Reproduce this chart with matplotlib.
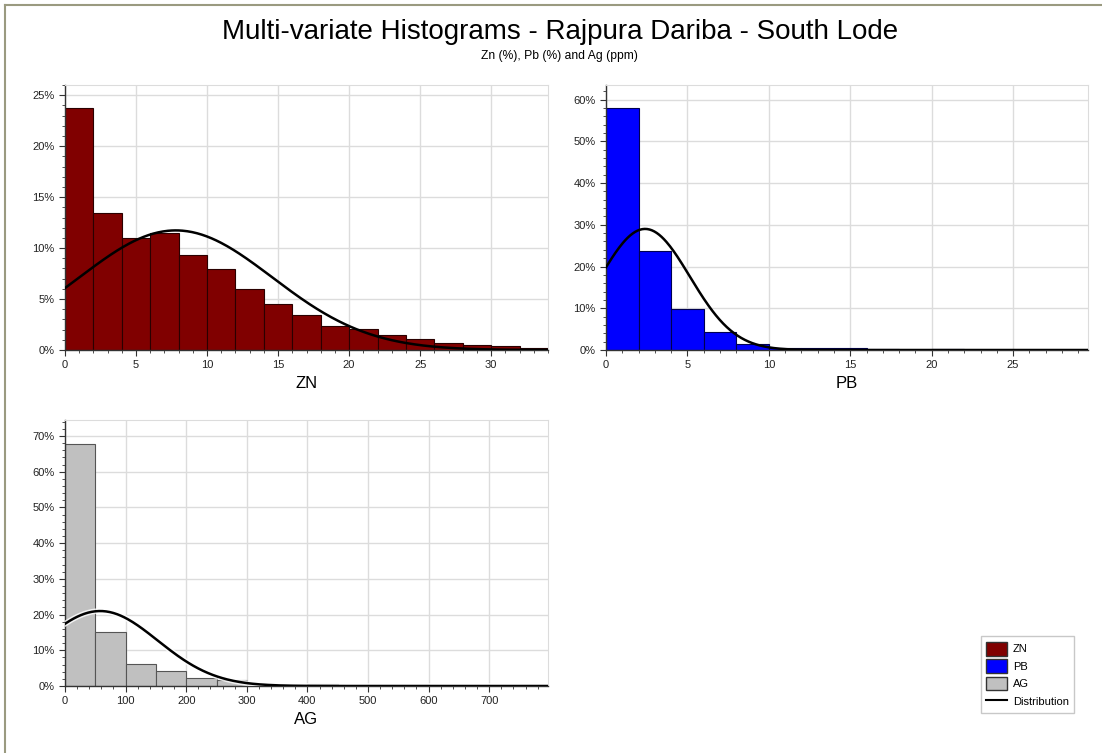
import numpy as np
import matplotlib
matplotlib.use("Agg")
import matplotlib.pyplot as plt
import matplotlib.patheffects as pe
from matplotlib.patches import Patch
from matplotlib.lines import Line2D
from matplotlib.ticker import MultipleLocator, PercentFormatter

plt.rcParams['font.family'] = ['Liberation Sans', 'DejaVu Sans']

# histogram data (percent of samples per bin)
zn_bin_width = 2
zn_pct = [23.7, 13.4, 11.0, 11.5, 9.3, 7.9, 6.0, 4.5, 3.4, 2.4, 2.1, 1.5, 1.1, 0.7, 0.5, 0.4, 0.2]
zn_mean, zn_sd = 7.8, 6.8

pb_bin_width = 2
pb_pct = [58.1, 23.8, 9.8, 4.2, 1.4, 0.4, 0.4, 0.4, 0.2, 0.0, 0.2]
pb_mean, pb_sd = 2.4, 2.75

ag_bin_width = 50
ag_pct = [67.9, 15.1, 6.1, 4.2, 2.2, 1.6, 0.5, 0.4, 0.5, 0.2, 0.2, 0.2, 0.0, 0.0, 0.0, 0.2]
ag_mean, ag_sd = 58, 95

grid_col = '#dcdcdc'


def draw_hist(ax, pct, width, mean, sd, color, edge, xmax, ymax, xmajor, xminor, ymajor, yminor, label, halo=False):
    edges = np.arange(len(pct)) * width
    ax.bar(edges, pct, width=width, align='edge', color=color, edgecolor=edge, linewidth=0.8, zorder=2)
    # fitted normal scaled to bin width
    x = np.linspace(0, xmax, 400)
    y = width * 100 / (sd * np.sqrt(2 * np.pi)) * np.exp(-0.5 * ((x - mean) / sd) ** 2)
    line, = ax.plot(x, y, color='black', lw=1.8, zorder=3)
    if halo:
        line.set_path_effects([pe.Stroke(linewidth=4, foreground='white', alpha=0.8), pe.Normal()])
    ax.set_xlim(0, xmax)
    ax.set_ylim(0, ymax)
    ax.xaxis.set_major_locator(MultipleLocator(xmajor))
    ax.xaxis.set_minor_locator(MultipleLocator(xminor))
    ax.yaxis.set_major_locator(MultipleLocator(ymajor))
    ax.yaxis.set_minor_locator(MultipleLocator(yminor))
    ax.yaxis.set_major_formatter(PercentFormatter(decimals=0))
    ax.grid(True, which='major', color=grid_col, lw=1, zorder=0)
    ax.set_axisbelow(True)
    for s in ['top', 'right']:
        ax.spines[s].set_color(grid_col)
    for s in ['left', 'bottom']:
        ax.spines[s].set_color('#333333')
        ax.spines[s].set_linewidth(1.0)
    ax.tick_params(which='major', length=4, width=0.8, labelsize=8, colors='#333333', labelcolor='#222222')
    ax.tick_params(which='minor', length=2, width=0.6, colors='#333333')
    ax.set_xlabel(label, fontsize=12, labelpad=4)


fig = plt.figure(figsize=(11.02, 7.53), dpi=100)

ax_zn = fig.add_axes([65 / 1102, 1 - 350 / 753, 483 / 1102, 265 / 753])
ax_pb = fig.add_axes([606 / 1102, 1 - 350 / 753, 482 / 1102, 265 / 753])
ax_ag = fig.add_axes([65 / 1102, 1 - 686 / 753, 483 / 1102, 266 / 753])

draw_hist(ax_zn, zn_pct, zn_bin_width, zn_mean, zn_sd, '#800000', '#2a0000', 34, 26, 5, 1, 5, 1, 'ZN')
draw_hist(ax_pb, pb_pct, pb_bin_width, pb_mean, pb_sd, '#0000ff', '#000050', 29.6, 63.5, 5, 1, 10, 2, 'PB')
draw_hist(ax_ag, ag_pct, ag_bin_width, ag_mean, ag_sd, '#c0c0c0', '#555555', 797, 74.5, 100, 20, 10, 2, 'AG', halo=True)

fig.text(0.508, 1 - 32 / 753, 'Multi-variate Histograms - Rajpura Dariba - South Lode',
         ha='center', va='center', fontsize=20)
fig.text(0.508, 1 - 56 / 753, 'Zn (%), Pb (%) and Ag (ppm)', ha='center', va='center', fontsize=8.7)

# figure frame (left and top edges)
fig.add_artist(Line2D([5 / 1102, 5 / 1102], [0, 1 - 5 / 753], color='#9a9a80', lw=1.5))
fig.add_artist(Line2D([5 / 1102, 1], [1 - 5 / 753, 1 - 5 / 753], color='#9a9a80', lw=1.5))

handles = [Patch(facecolor='#800000', edgecolor='#333333', label='ZN'),
           Patch(facecolor='#0000ff', edgecolor='#333333', label='PB'),
           Patch(facecolor='#c0c0c0', edgecolor='#333333', label='AG'),
           Line2D([], [], color='black', lw=1.5, label='Distribution')]
fig.legend(handles=handles, loc='lower left', bbox_to_anchor=(975 / 1102, 1 - 719 / 753),
           fontsize=8, frameon=True, fancybox=False, edgecolor='#bbbbbb',
           handlelength=1.9, handleheight=1.5, borderpad=0.5, labelspacing=0.35, handletextpad=0.5)

fig.savefig('out.png', dpi=100)
